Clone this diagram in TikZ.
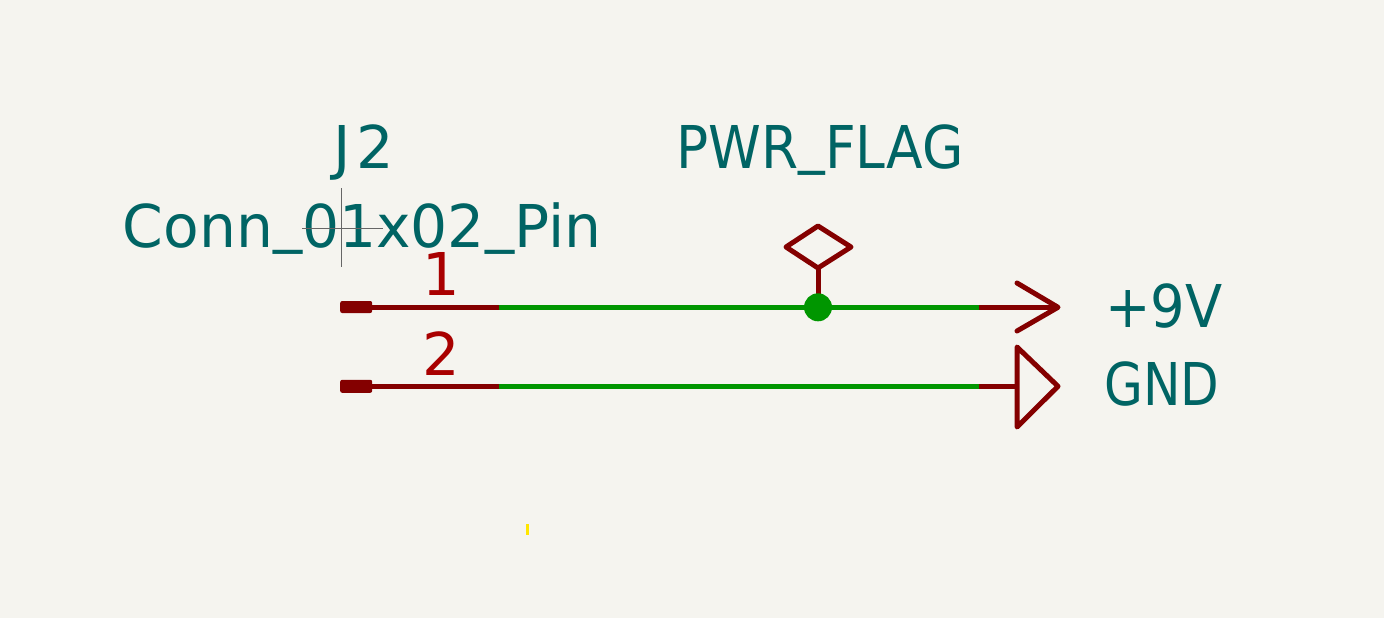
\documentclass[tikz,border=0pt]{standalone}
\usepackage{fontspec}
\setmainfont{DejaVu Sans}
\newfontfamily\wideA[LetterSpace=9]{DejaVu Sans}
\newcommand{\usc}{\raisebox{7pt}{\_}}
\definecolor{bgc}{HTML}{F5F4EF}
\definecolor{teal}{HTML}{006464}
\definecolor{pinc}{HTML}{840000}
\definecolor{numc}{HTML}{A90000}
\definecolor{wirec}{HTML}{009600}
\definecolor{yel}{HTML}{FFE600}
\begin{document}
\begin{tikzpicture}[x=1pt,y=-1pt,
  lbl/.style={inner sep=0pt,outer sep=0pt,text=teal,font=\fontsize{59}{59}\selectfont,anchor=base},
  num/.style={inner sep=0pt,outer sep=0pt,text=numc,font=\fontsize{59}{59}\selectfont,anchor=base},
  pinline/.style={draw=pinc,line width=4.5pt},
  symline/.style={draw=pinc,line width=5pt,line cap=round,line join=round},
  wire/.style={draw=wirec,line width=4.5pt},
  cross/.style={draw=black!60,line width=1pt}]
\useasboundingbox (0,0) rectangle (1384,618);
\fill[bgc] (0,0) rectangle (1384,618);
% text
\node[lbl] (j2) at (364,168) {\wideA J2};
\node[lbl,xscale=0.988,transform shape] (val) at (362,247) {Conn\usc 01x02\usc Pin};
\node[lbl,xscale=0.905,transform shape] (flag) at (820,168) {PWR\usc FLAG};
\node[lbl,xscale=0.92,transform shape] (p9) at (1164,327) {+9V};
\node[lbl,xscale=0.85,transform shape] (gnd) at (1162,405) {GND};
\node[num] (n1) at (441,295) {1};
\node[num] (n2) at (441,375) {2};
% coordinates
\coordinate (a1) at (372,307.3);
\coordinate (b1) at (499,307.3);
\coordinate (c1) at (979,307.3);
\coordinate (d1) at (1058,307.3);
\coordinate (a2) at (372,386.3);
\coordinate (b2) at (499,386.3);
\coordinate (c2) at (979,386.3);
\coordinate (d2) at (1017,386.3);
\coordinate (tip2) at (1058,386.3);
\coordinate (dt) at (818,226);
\coordinate (dl) at (786,247);
\coordinate (dr) at (851,247);
\coordinate (db) at (818,268);
% crosshair
\coordinate (cv1) at (341,188);
\coordinate (cv2) at (341,267);
\coordinate (ch1) at (302,228);
\coordinate (ch2) at (383,228);
\draw[cross] (cv1) -- (cv2);
\draw[cross] (ch1) -- (ch2);
% pins
\node[fill=pinc,draw=none,rounded corners=2pt,minimum width=32pt,minimum height=12pt,inner sep=0pt,anchor=west] (s1) at (340,307) {};
\node[fill=pinc,draw=none,rounded corners=2pt,minimum width=32pt,minimum height=13pt,inner sep=0pt,anchor=west] (s2) at (340,386.3) {};
\draw[pinline] (a1) -- (b1);
\draw[pinline] (a2) -- (b2);
\draw[wire] (b1) -- (c1);
\draw[wire] (b2) -- (c2);
\draw[pinline] (c1) -- (d1);
\draw[pinline] (c2) -- (d2);
% +9V arrow
\coordinate (au) at (1017,283);
\coordinate (ad) at (1017,331);
\draw[symline] (au) -- (d1) -- (ad);
% GND triangle
\coordinate (tu) at (1017,347);
\coordinate (td) at (1017,427);
\draw[symline] (tu) -- (tip2) -- (td) -- cycle;
% power flag
\draw[symline] (dt) -- (dr) -- (db) -- (dl) -- cycle;
\coordinate (jn) at (818,307.3);
\draw[pinc,line width=5pt] (db) -- (jn);
\node[circle,fill=wirec,draw=none,minimum size=28pt,inner sep=0pt] (junction) at (jn) {};
% marker
\fill[yel] (525.5,524) rectangle (529,535);
\end{tikzpicture}
\end{document}
